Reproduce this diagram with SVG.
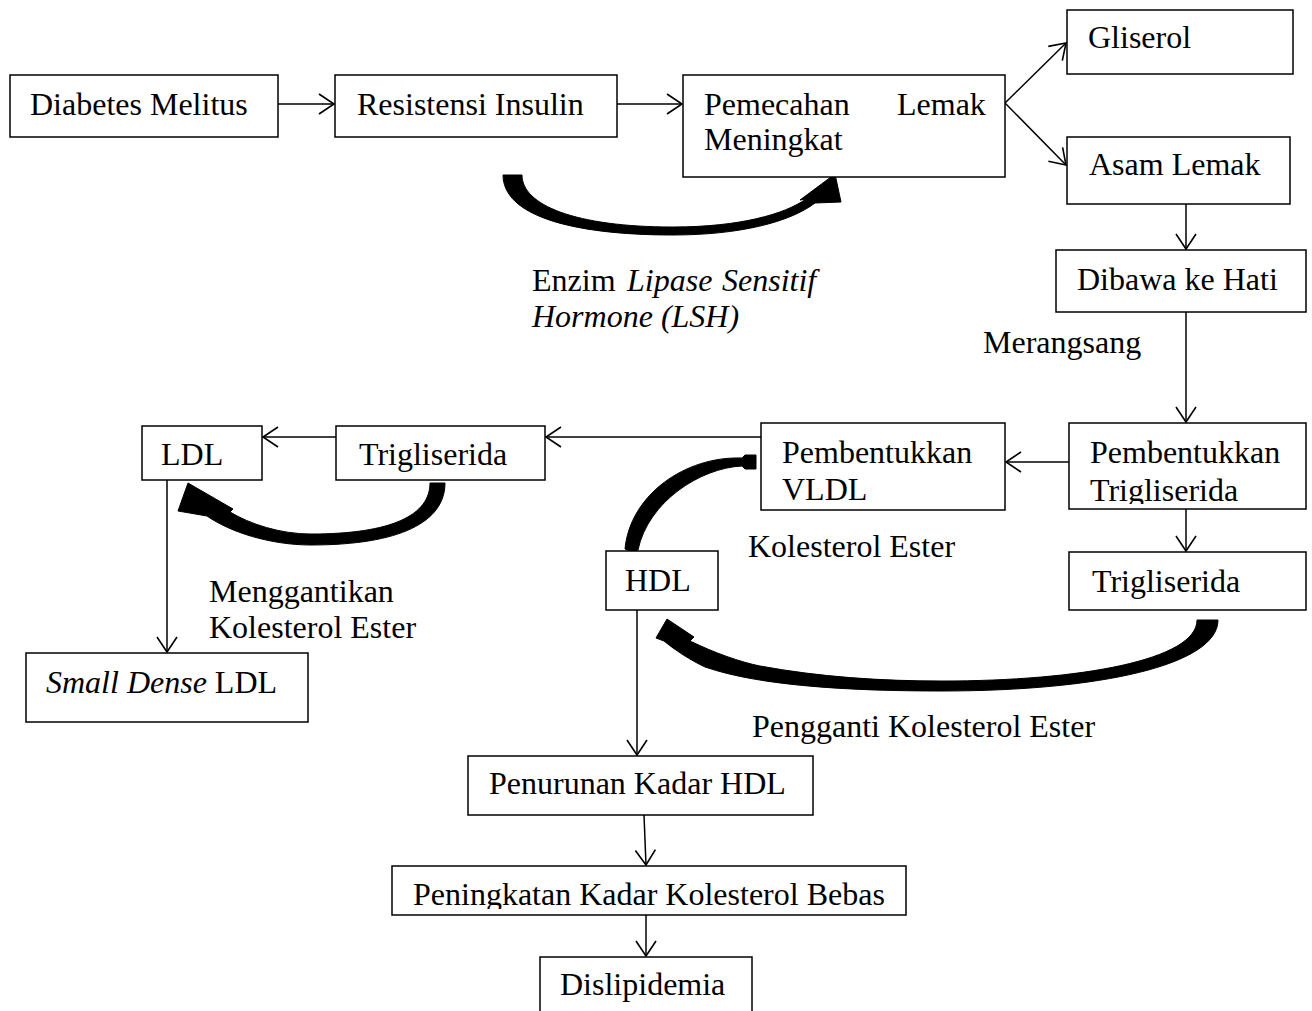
<svg xmlns="http://www.w3.org/2000/svg" width="1312" height="1011" viewBox="0 0 1312 1011">
<style>
  .box{fill:#fff;stroke:#000;stroke-width:1.5}
  text{font-family:"Liberation Serif","Times New Roman",serif;font-size:32px;fill:#000}
  .it{font-style:italic}
  .ln{fill:none;stroke:#000;stroke-width:1.5;marker-end:url(#ah)}
  .thick{fill:#000;stroke:#000;stroke-width:1;stroke-linejoin:round}
</style>
<defs>
  <marker id="ah" markerUnits="userSpaceOnUse" markerWidth="30" markerHeight="30" viewBox="-20 -15 30 30" refX="0" refY="0" orient="auto">
    <path d="M-15,-10 L0,0 L-15,10" fill="none" stroke="#000" stroke-width="1.6"/>
  </marker>
  <clipPath id="clipPT"><rect x="1069" y="423" width="237" height="81"/></clipPath>
  <clipPath id="clipPK"><rect x="392" y="866" width="514" height="43"/></clipPath>
</defs>
<rect width="1312" height="1011" fill="#fff"/>

<g id="connectors">
  <line class="ln" x1="278" y1="104" x2="334" y2="104"/>
  <line class="ln" x1="617" y1="104" x2="682" y2="104"/>
  <line class="ln" x1="1005" y1="103" x2="1066" y2="43"/>
  <line class="ln" x1="1005" y1="103" x2="1066" y2="165"/>
  <line class="ln" x1="1186" y1="204" x2="1186" y2="249"/>
  <line class="ln" x1="1186" y1="312" x2="1186" y2="422"/>
  <line class="ln" x1="1069" y1="462" x2="1006" y2="462"/>
  <line class="ln" x1="761" y1="437" x2="546" y2="437"/>
  <line class="ln" x1="336" y1="437" x2="263" y2="437"/>
  <line class="ln" x1="167" y1="480" x2="167" y2="652"/>
  <line class="ln" x1="1186" y1="509" x2="1186" y2="551"/>
  <line class="ln" x1="637" y1="610" x2="637" y2="755"/>
  <line class="ln" x1="644" y1="815" x2="646" y2="865"/>
  <line class="ln" x1="646" y1="915" x2="646" y2="956"/>
  <path class="thick" d="M503,175 L522,175 C522,205 575,227 673,227 C740,227 785,214 806,199 L800,200 L835,174 L841,202 L815,203 C790,222 740,235 673,235 C570,235 503,215 503,175 Z"/>
  <path class="thick" d="M430,483 L445,483 C445,522 400,545 311,545 C270,545 230,532 207,516 L178,511 L188,483 L233,509 L230,512 C250,524 280,534 311,534 C392,534 430,515 430,483 Z"/>
  <path class="thick" d="M1197,620 L1218,620 C1218,665 1100,691 942,691 C850,691 760,686 705,667 C690,660 675,650 664,641 L656,638 L667,619 L694,637 L690,641 C715,653 740,662 760,666 C820,677 880,681 942,681 C1080,681 1197,660 1197,620 Z"/>
  <path class="thick" d="M756,455 L756,469 L745,469 L742,466 C700,468 648,502 638,550 Q632,553 625,549 C630,495 685,456 742,458 L745,455 Z"/>
</g>

<g id="n-diabetes"><rect class="box" x="10" y="75" width="268" height="62"/><text x="30" y="115">Diabetes Melitus</text></g>
<g id="n-resistensi"><rect class="box" x="335" y="75" width="282" height="62"/><text x="357" y="115">Resistensi Insulin</text></g>
<g id="n-pemecahan"><rect class="box" x="683" y="75" width="322" height="102"/><text x="704" y="115">Pemecahan</text><text x="897" y="115">Lemak</text><text x="704" y="150">Meningkat</text></g>
<g id="n-gliserol"><rect class="box" x="1067" y="10" width="226" height="64"/><text x="1088" y="48">Gliserol</text></g>
<g id="n-asam"><rect class="box" x="1067" y="137" width="223" height="67"/><text x="1089" y="175">Asam Lemak</text></g>
<g id="n-dibawa"><rect class="box" x="1056" y="250" width="250" height="62"/><text x="1077" y="290">Dibawa ke Hati</text></g>
<g id="n-pembtrig"><rect class="box" x="1069" y="423" width="237" height="86"/><text x="1090" y="463">Pembentukkan</text><text x="1090" y="501" clip-path="url(#clipPT)">Trigliserida</text></g>
<g id="n-pembvldl"><rect class="box" x="761" y="423" width="244" height="87"/><text x="782" y="463">Pembentukkan</text><text x="782" y="500">VLDL</text></g>
<g id="n-trig-right"><rect class="box" x="1069" y="552" width="237" height="58"/><text x="1092" y="592">Trigliserida</text></g>
<g id="n-trig-left"><rect class="box" x="336" y="426" width="209" height="54"/><text x="359" y="465">Trigliserida</text></g>
<g id="n-ldl"><rect class="box" x="142" y="426" width="120" height="54"/><text x="161" y="465">LDL</text></g>
<g id="n-sdldl"><rect class="box" x="26" y="653" width="282" height="69"/><text x="46" y="693"><tspan class="it">Small Dense</tspan> LDL</text></g>
<g id="n-hdl"><rect class="box" x="606" y="551" width="112" height="59"/><text x="625" y="591">HDL</text></g>
<g id="n-penurunan"><rect class="box" x="468" y="756" width="345" height="59"/><text x="489" y="794">Penurunan Kadar HDL</text></g>
<g id="n-peningkatan"><rect class="box" x="392" y="866" width="514" height="49"/><text x="413" y="905" clip-path="url(#clipPK)">Peningkatan Kadar Kolesterol Bebas</text></g>
<g id="n-dislipidemia"><rect class="box" x="540" y="957" width="212" height="70"/><text x="560" y="995">Dislipidemia</text></g>

<g id="labels">
  <text x="532" y="291">Enzim</text><text class="it" x="627" y="291">Lipase</text><text class="it" x="722" y="291">Sensitif</text>
  <text class="it" x="532" y="327">Hormone (LSH)</text>
  <text x="983" y="353">Merangsang</text>
  <text x="748" y="557">Kolesterol Ester</text>
  <text x="209" y="602">Menggantikan</text>
  <text x="209" y="638">Kolesterol Ester</text>
  <text x="752" y="737">Pengganti Kolesterol Ester</text>
</g>
</svg>
